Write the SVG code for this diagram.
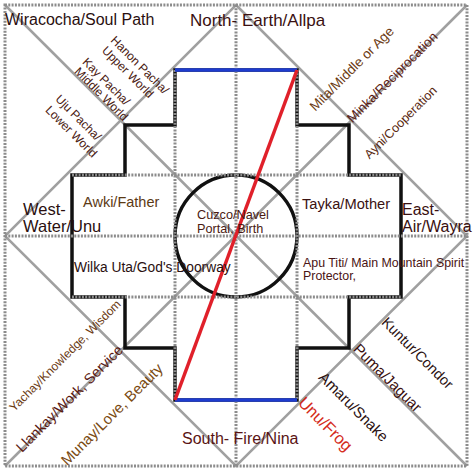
<svg xmlns="http://www.w3.org/2000/svg" width="474" height="474" viewBox="0 0 474 474">
<style>
.dot{fill:none;stroke:#8c8c8c;stroke-width:3;stroke-dasharray:2 1.3}
.diag{fill:none;stroke:#a0a0a0;stroke-width:2.5}
.blk{fill:none;stroke:#111;stroke-width:3.5}
.t{font-family:"Liberation Sans",Arial,sans-serif}
</style>
<rect width="474" height="474" fill="#fff"/>
<g id="connectors">
<g id="diagonals">
<line class="diag" x1="5" y1="5" x2="467" y2="466"/>
<line class="diag" x1="467" y1="5" x2="5" y2="466"/>
<polygon class="diag" points="236,5 467,236 236,466 5,236"/>
</g>
<g id="chakana">
<polygon class="blk" points="175,70 297,70 297,125 349,125 349,175 401,175 401,297 349,297 349,348 297,348 297,400 175,400 175,348 125,348 125,297 72,297 72,175 125,175 125,125 175,125"/>
<circle class="blk" cx="236" cy="236" r="61" stroke-width="3"/>
</g>
<g id="grid">
<rect class="dot" x="5" y="5" width="462" height="461"/>
<line class="dot" x1="236" y1="5" x2="236" y2="466"/>
<line class="dot" x1="5" y1="236" x2="467" y2="236"/>
<line class="dot" x1="175" y1="70" x2="175" y2="400"/>
<line class="dot" x1="297" y1="70" x2="297" y2="400"/>
<line class="dot" x1="72" y1="175" x2="401" y2="175"/>
<line class="dot" x1="72" y1="297" x2="401" y2="297"/>
</g>
<g id="colored">
<line x1="175" y1="70" x2="297" y2="70" stroke="#1e3ccf" stroke-width="3.5"/>
<line x1="175" y1="400" x2="297" y2="400" stroke="#1e3ccf" stroke-width="3.5"/>
<line x1="175" y1="400" x2="297" y2="70" stroke="#e0202a" stroke-width="3.5"/>
</g>
</g>
<g id="wiracocha"><text class="t" x="5" y="25" font-size="16" fill="#2a0f0f">Wiracocha/Soul Path</text></g>
<g id="north"><text class="t" x="190" y="26" font-size="17" fill="#3a1010">North- Earth/Allpa</text></g>
<g id="south"><text class="t" x="182" y="444" font-size="16" fill="#5a1414">South- Fire/Nina</text></g>
<g id="west"><text class="t" font-size="16.5" fill="#2a0f0f"><tspan x="23" y="215">West-</tspan><tspan x="23" y="232">Water/Unu</tspan></text></g>
<g id="east"><text class="t" font-size="16" fill="#3a1010"><tspan x="402" y="215">East-</tspan><tspan x="402" y="232">Air/Wayra</tspan></text></g>
<g id="awki"><text class="t" x="83" y="207" font-size="14.5" fill="#5c3a14">Awki/Father</text></g>
<g id="tayka"><text class="t" x="302" y="209" font-size="14.7" fill="#3a1212">Tayka/Mother</text></g>
<g id="cuzco"><text class="t" font-size="12.7" fill="#4a1a12"><tspan x="197" y="219">Cuzco/Navel</tspan><tspan x="197" y="232.5">Portal, Birth</tspan></text></g>
<g id="wilka"><text class="t" x="74" y="272" font-size="13.8" fill="#2a1010">Wilka Uta/God's Doorway</text></g>
<g id="apu"><text class="t" font-size="12.4" fill="#4a1414"><tspan x="303" y="267">Apu Titi/ Main Mountain Spirit</tspan><tspan x="303" y="279.5">Protector,</tspan></text></g>
<g id="pachas" class="t" font-size="12" fill="#4a1a12" text-anchor="middle">
<text transform="translate(137,68) rotate(45)">Hanon Pacha/</text>
<text transform="translate(125,75) rotate(45)">Upper World</text>
<text transform="translate(103.5,84.5) rotate(45)">Kay Pacha/</text>
<text transform="translate(98.5,97) rotate(45)">Middle World</text>
<text transform="translate(75.5,120.5) rotate(45)">Uju Pacha/</text>
<text transform="translate(68.5,134.5) rotate(45)">Lower World</text>
</g>
<g id="principles" class="t" text-anchor="middle">
<text transform="translate(355,72) rotate(-45)" font-size="13.6" fill="#6b3a12">Mita/Middle or Age</text>
<text transform="translate(395.5,80.5) rotate(-45)" font-size="13.4" fill="#5a1a12">Minka/Reciprocation</text>
<text transform="translate(403.5,125.5) rotate(-45)" font-size="12.6" fill="#5a2a12">Ayni/Cooperation</text>
</g>
<g id="virtues" class="t" text-anchor="middle">
<text transform="translate(68,358.5) rotate(-45)" font-size="12" fill="#6a3a12">Yachay/Knowledge, Wisdom</text>
<text transform="translate(73,402) rotate(-45)" font-size="14.5" fill="#5a1a12">Llankay/Work, Service</text>
<text transform="translate(115.5,418) rotate(-45)" font-size="15" fill="#7a4a12">Munay/Love, Beauty</text>
</g>
<g id="animals" class="t" text-anchor="middle">
<text transform="translate(414,356.5) rotate(45)" font-size="14.5" fill="#2a1010">Kuntur/Condor</text>
<text transform="translate(384,381.5) rotate(45)" font-size="15" fill="#3a1010">Puma/Jaguar</text>
<text transform="translate(350,410.5) rotate(45)" font-size="15" fill="#2a1010">Amaru/Snake</text>
<text transform="translate(321.5,428) rotate(45)" font-size="16.5" fill="#d42a1a">Unu/Frog</text>
</g>
</svg>
